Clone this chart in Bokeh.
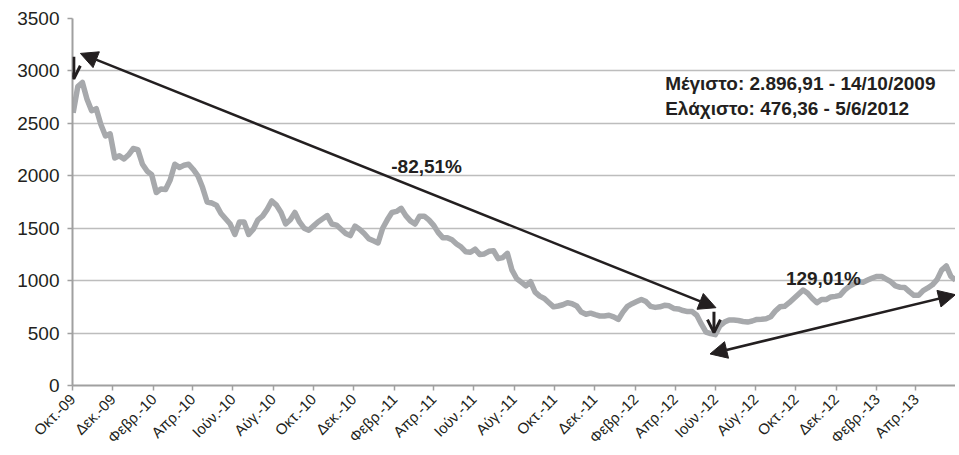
import math
import pandas as pd
from bokeh.plotting import figure
from bokeh.models import Range1d, FixedTicker, Arrow, NormalHead, OpenHead, Label
from bokeh.embed import file_html
from bokeh.resources import INLINE

# ---------------- data ----------------
origin = "2009-10-01"
first_week = "2009-10-02"          # weekly closes (Fridays)
index_values = [
    2600, 2850, 2890, 2730, 2620, 2640, 2490, 2380, 2400, 2170,
    2190, 2160, 2200, 2260, 2250, 2110, 2045, 2010, 1840, 1875,
    1870, 1960, 2110, 2080, 2100, 2110, 2060, 2000, 1890, 1750,
    1740, 1720, 1640, 1590, 1540, 1440, 1560, 1560, 1440, 1490,
    1580, 1615, 1680, 1760, 1720, 1650, 1540, 1580, 1650, 1560,
    1500, 1480, 1520, 1560, 1590, 1620, 1540, 1530, 1490, 1450,
    1430, 1520, 1490, 1450, 1400, 1380, 1360, 1500, 1580, 1650,
    1660, 1690, 1620, 1570, 1540, 1615, 1615, 1580, 1530, 1460,
    1410, 1410, 1390, 1350, 1320, 1275, 1270, 1300, 1250, 1255,
    1280, 1285, 1210, 1220, 1260, 1100, 1020, 985, 950, 990,
    890, 852, 830, 790, 750, 758, 770, 790, 780, 758,
    700, 680, 690, 675, 663, 663, 670, 655, 630, 700,
    755, 780, 800, 820, 800, 755, 745, 750, 765, 760,
    735, 730, 715, 705, 705, 670, 585, 510, 495, 485,
    570, 605, 625, 625, 620, 610, 605, 615, 630, 632,
    637, 655, 710, 750, 755, 790, 830, 870, 910, 880,
    830, 790, 820, 820, 845, 850, 860, 910, 945, 970,
    990, 985, 1005, 1025, 1040, 1040, 1015, 990, 950, 937,
    935, 895, 860, 860, 905, 930, 960, 1010, 1100, 1140,
    1040, 1005,
]
tick_dates = [
    "2009-10-01", "2009-12-01", "2010-02-01", "2010-04-01", "2010-06-01", "2010-08-01",
    "2010-10-01", "2010-12-01", "2011-02-01", "2011-04-01", "2011-06-01", "2011-08-01",
    "2011-10-01", "2011-12-01", "2012-02-01", "2012-04-01", "2012-06-01", "2012-08-01",
    "2012-10-01", "2012-12-01", "2013-02-01", "2013-04-01",
]
tick_labels = [
    "Οκτ.-09", "Δεκ.-09", "Φεβρ.-10", "Απρ.-10", "Ιούν.-10", "Αύγ.-10",
    "Οκτ.-10", "Δεκ.-10", "Φεβρ.-11", "Απρ.-11", "Ιούν.-11", "Αύγ.-11",
    "Οκτ.-11", "Δεκ.-11", "Φεβρ.-12", "Απρ.-12", "Ιούν.-12", "Αύγ.-12",
    "Οκτ.-12", "Δεκ.-12", "Φεβρ.-13", "Απρ.-13",
]
y_ticks = [0, 500, 1000, 1500, 2000, 2500, 3000, 3500]
axis_end = "2013-05-31"

max_text = "Μέγιστο: 2.896,91 - 14/10/2009"
min_text = "Ελάχιστο: 476,36 - 5/6/2012"
fall_text = "-82,51%"
rise_text = "129,01%"

# ---------------- helpers ----------------
t0 = pd.Timestamp(origin)
def day(d):
    return (pd.Timestamp(d) - t0).days

dates = pd.date_range(first_week, periods=len(index_values), freq="W-FRI")
xs = [(d - t0).days for d in dates]
tick_pos = [day(d) for d in tick_dates]

INK = "#231f20"
GRID = "#bdbdbd"
AXIS = "#a0a0a0"
LINE = "#a7a9ac"
FONT = "Liberation Sans"

p = figure(width=955, height=455, output_backend="svg", toolbar_location=None,
           x_range=Range1d(0, day(axis_end)), y_range=Range1d(0, 3500),
           min_border_left=72, min_border_right=0, min_border_top=18, min_border_bottom=69)
p.outline_line_color = None
p.background_fill_color = "white"
p.border_fill_color = "white"

p.line(xs, index_values, line_color=LINE, line_width=5.5, line_join="round")

# axes
p.xaxis.ticker = FixedTicker(ticks=tick_pos)
p.xaxis.major_label_overrides = {tp: lab for tp, lab in zip(tick_pos, tick_labels)}
p.xaxis.major_label_orientation = math.pi / 4
p.yaxis.ticker = FixedTicker(ticks=y_ticks)
for ax in (p.xaxis, p.yaxis):
    ax.axis_line_color = AXIS
    ax.axis_line_width = 2
    ax.major_tick_line_color = AXIS
    ax.major_tick_line_width = 1.5
    ax.major_tick_out = 5
    ax.major_tick_in = 0
    ax.minor_tick_line_color = None
    ax.major_label_text_color = INK
    ax.major_label_text_font = FONT
p.xaxis.major_label_text_font_size = "15px"
p.xaxis.major_label_standoff = 6
p.yaxis.major_label_text_font_size = "19px"
p.yaxis.major_label_standoff = 8
p.xgrid.grid_line_color = None
p.ygrid.grid_line_color = GRID
p.ygrid.grid_line_width = 1.5

# arrows
p.add_layout(Arrow(start=NormalHead(size=17, fill_color=INK, line_color=INK),
                   end=NormalHead(size=17, fill_color=INK, line_color=INK),
                   x_start=12, y_start=3167, x_end=975, y_end=742,
                   line_color=INK, line_width=2.5))
p.add_layout(Arrow(start=NormalHead(size=17, fill_color=INK, line_color=INK),
                   end=NormalHead(size=17, fill_color=INK, line_color=INK),
                   x_start=966, y_start=301, x_end=day(axis_end), y_end=866,
                   line_color=INK, line_width=2.5))
p.add_layout(Arrow(end=OpenHead(size=13, line_color=INK, line_width=3),
                   x_start=2, y_start=3135, x_end=2, y_end=2925,
                   line_color=INK, line_width=3))
p.add_layout(Arrow(end=OpenHead(size=13, line_color=INK, line_width=3),
                   x_start=972, y_start=704, x_end=972, y_end=504,
                   line_color=INK, line_width=3))

# texts
def lab(x, y, t):
    p.add_layout(Label(x=x, y=y, text=t, text_font=FONT, text_font_style="bold",
                       text_font_size="19px", text_color=INK, text_baseline="alphabetic"))

lab(898, 2879, max_text)
lab(898, 2641, min_text)
lab(483, 2086, fall_text)
lab(1081, 1024, rise_text)

open("out.html", "w").write(file_html(p, INLINE))
